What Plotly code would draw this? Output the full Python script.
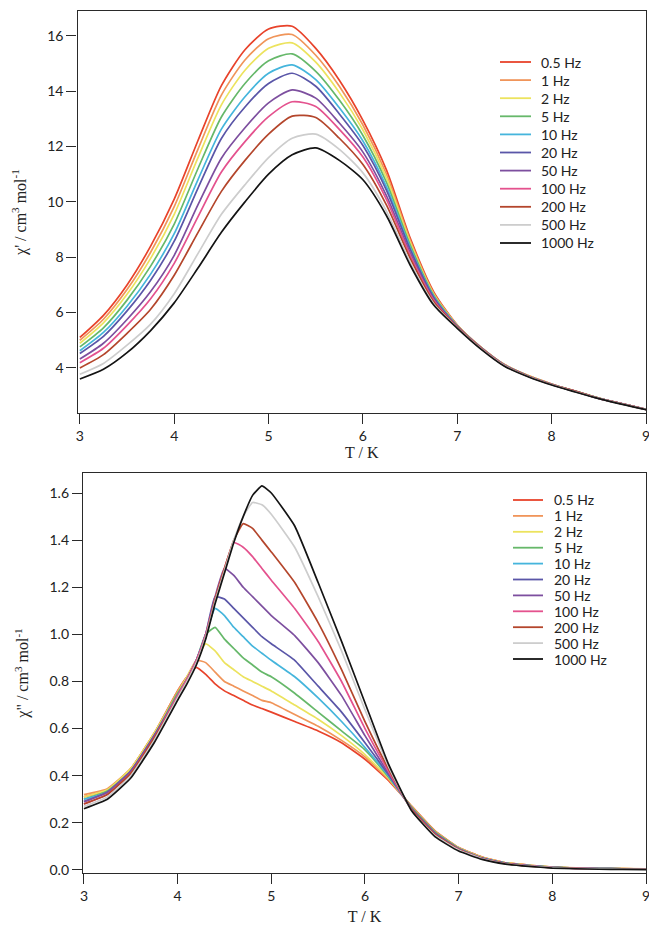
import plotly.graph_objects as go

W, H = 649, 926

# ---------------- data ----------------
freq_labels = ["0.5 Hz", "1 Hz", "2 Hz", "5 Hz", "10 Hz", "20 Hz",
               "50 Hz", "100 Hz", "200 Hz", "500 Hz", "1000 Hz"]
line_colors = ["#e8432b", "#f0955a", "#ece35e", "#66b86a", "#45b5dc", "#5a56a8",
               "#7d4f9f", "#e4528e", "#b4462c", "#cdcdcd", "#141414"]

# chi' (in-phase) panel
T_top = [3.0, 3.25, 3.5, 3.75, 4.0, 4.25, 4.5, 4.75, 5.0, 5.25, 5.5, 5.75, 6.0,
         6.25, 6.5, 6.75, 7.0, 7.25, 7.5, 7.75, 8.0, 8.25, 8.5, 8.75, 9.0]
chi1_0p5 = [5.10, 5.90, 7.00, 8.40, 10.10, 12.20, 14.20, 15.50, 16.25, 16.35, 15.55, 14.40, 12.95, 11.15, 8.70, 6.75, 5.55, 4.75, 4.12, 3.72, 3.42, 3.16, 2.91, 2.70, 2.50]
chi1_1 = [5.00, 5.76, 6.83, 8.18, 9.83, 11.89, 13.86, 15.13, 15.90, 16.05, 15.30, 14.18, 12.78, 11.00, 8.62, 6.70, 5.54, 4.75, 4.12, 3.72, 3.42, 3.16, 2.91, 2.70, 2.50]
chi1_2 = [4.89, 5.63, 6.66, 7.96, 9.55, 11.58, 13.51, 14.76, 15.55, 15.75, 15.05, 13.95, 12.60, 10.86, 8.54, 6.66, 5.53, 4.74, 4.11, 3.72, 3.41, 3.16, 2.91, 2.70, 2.50]
chi1_5 = [4.76, 5.45, 6.45, 7.68, 9.20, 11.19, 13.07, 14.28, 15.10, 15.35, 14.72, 13.68, 12.40, 10.70, 8.45, 6.62, 5.52, 4.74, 4.11, 3.71, 3.41, 3.16, 2.91, 2.70, 2.50]
chi1_10 = [4.62, 5.28, 6.23, 7.39, 8.85, 10.79, 12.63, 13.80, 14.65, 14.95, 14.42, 13.40, 12.20, 10.54, 8.36, 6.58, 5.51, 4.73, 4.10, 3.71, 3.41, 3.15, 2.90, 2.70, 2.50]
chi1_20 = [4.52, 5.14, 6.06, 7.17, 8.58, 10.48, 12.29, 13.43, 14.28, 14.65, 14.18, 13.18, 12.04, 10.42, 8.29, 6.55, 5.50, 4.73, 4.10, 3.71, 3.40, 3.15, 2.90, 2.70, 2.50]
chi1_50 = [4.32, 4.89, 5.75, 6.76, 8.07, 9.88, 11.58, 12.68, 13.58, 14.05, 13.75, 12.85, 11.80, 10.22, 8.17, 6.49, 5.49, 4.72, 4.09, 3.70, 3.40, 3.15, 2.90, 2.70, 2.50]
chi1_100 = [4.19, 4.71, 5.54, 6.50, 7.78, 9.45, 11.08, 12.18, 13.08, 13.62, 13.45, 12.62, 11.62, 10.08, 8.08, 6.45, 5.48, 4.72, 4.09, 3.70, 3.40, 3.15, 2.90, 2.70, 2.50]
chi1_200 = [4.00, 4.48, 5.25, 6.12, 7.35, 8.88, 10.38, 11.50, 12.45, 13.10, 13.05, 12.30, 11.35, 9.88, 7.97, 6.39, 5.47, 4.71, 4.08, 3.70, 3.40, 3.15, 2.90, 2.70, 2.50]
chi1_500 = [3.77, 4.16, 4.82, 5.58, 6.68, 8.12, 9.55, 10.62, 11.60, 12.30, 12.45, 11.90, 11.05, 9.66, 7.82, 6.32, 5.45, 4.70, 4.08, 3.69, 3.39, 3.14, 2.90, 2.69, 2.50]
chi1_1000 = [3.60, 3.95, 4.55, 5.35, 6.35, 7.60, 8.90, 10.00, 11.00, 11.70, 11.95, 11.50, 10.80, 9.50, 7.72, 6.27, 5.43, 4.68, 4.06, 3.68, 3.38, 3.13, 2.89, 2.68, 2.49]

# chi'' (out-of-phase) panel
T_bot = [3.0, 3.25, 3.5, 3.75, 4.0, 4.1, 4.2, 4.3, 4.4, 4.5, 4.6, 4.7, 4.8, 4.9, 5.0,
         5.25, 5.5, 5.75, 6.0, 6.25, 6.5, 6.75, 7.0, 7.25, 7.5, 7.75, 8.0, 8.25, 8.5, 8.75, 9.0]
chi2_0p5 = [0.31, 0.34, 0.43, 0.58, 0.76, 0.82, 0.86, 0.83, 0.79, 0.76, 0.74, 0.72, 0.70, 0.685, 0.67, 0.63, 0.59, 0.54, 0.47, 0.38, 0.27, 0.165, 0.095, 0.055, 0.03, 0.02, 0.012, 0.008, 0.006, 0.006, 0.004]
chi2_1 = [0.32, 0.345, 0.43, 0.58, 0.76, 0.82, 0.89, 0.88, 0.84, 0.80, 0.78, 0.76, 0.74, 0.72, 0.71, 0.66, 0.61, 0.55, 0.48, 0.385, 0.27, 0.165, 0.095, 0.055, 0.03, 0.02, 0.012, 0.009, 0.007, 0.006, 0.005]
chi2_2 = [0.31, 0.34, 0.43, 0.58, 0.75, 0.82, 0.89, 0.96, 0.93, 0.88, 0.85, 0.82, 0.80, 0.78, 0.76, 0.70, 0.64, 0.57, 0.49, 0.39, 0.265, 0.16, 0.093, 0.053, 0.03, 0.02, 0.012, 0.008, 0.007, 0.006, 0.004]
chi2_5 = [0.30, 0.335, 0.42, 0.57, 0.75, 0.81, 0.89, 1.00, 1.03, 0.98, 0.94, 0.90, 0.87, 0.84, 0.82, 0.75, 0.67, 0.59, 0.51, 0.395, 0.265, 0.16, 0.092, 0.052, 0.03, 0.018, 0.012, 0.008, 0.006, 0.005, 0.004]
chi2_10 = [0.30, 0.33, 0.42, 0.57, 0.74, 0.81, 0.89, 1.00, 1.11, 1.08, 1.03, 0.99, 0.95, 0.92, 0.89, 0.82, 0.73, 0.63, 0.52, 0.40, 0.26, 0.155, 0.09, 0.05, 0.028, 0.018, 0.011, 0.008, 0.006, 0.005, 0.004]
chi2_20 = [0.29, 0.33, 0.42, 0.57, 0.74, 0.81, 0.89, 1.00, 1.16, 1.15, 1.11, 1.07, 1.03, 0.99, 0.96, 0.89, 0.78, 0.67, 0.54, 0.405, 0.26, 0.155, 0.09, 0.05, 0.028, 0.018, 0.011, 0.007, 0.006, 0.005, 0.004]
chi2_50 = [0.29, 0.33, 0.42, 0.57, 0.74, 0.81, 0.89, 1.00, 1.16, 1.28, 1.25, 1.20, 1.16, 1.12, 1.08, 0.995, 0.88, 0.74, 0.57, 0.41, 0.26, 0.155, 0.088, 0.05, 0.028, 0.017, 0.011, 0.007, 0.006, 0.005, 0.004]
chi2_100 = [0.28, 0.32, 0.41, 0.56, 0.74, 0.81, 0.89, 1.00, 1.15, 1.28, 1.39, 1.37, 1.33, 1.28, 1.23, 1.11, 0.97, 0.80, 0.60, 0.42, 0.255, 0.15, 0.088, 0.048, 0.027, 0.017, 0.010, 0.007, 0.005, 0.004, 0.003]
chi2_200 = [0.28, 0.32, 0.41, 0.56, 0.73, 0.80, 0.88, 0.99, 1.15, 1.28, 1.40, 1.47, 1.45, 1.40, 1.35, 1.22, 1.05, 0.85, 0.63, 0.43, 0.255, 0.15, 0.087, 0.048, 0.027, 0.016, 0.010, 0.007, 0.005, 0.004, 0.003]
chi2_500 = [0.27, 0.31, 0.40, 0.55, 0.73, 0.80, 0.88, 0.99, 1.14, 1.27, 1.40, 1.50, 1.56, 1.55, 1.51, 1.37, 1.16, 0.93, 0.68, 0.44, 0.25, 0.145, 0.085, 0.047, 0.026, 0.016, 0.010, 0.006, 0.005, 0.004, 0.003]
chi2_1000 = [0.26, 0.30, 0.39, 0.54, 0.72, 0.79, 0.87, 0.98, 1.13, 1.26, 1.39, 1.50, 1.59, 1.63, 1.60, 1.46, 1.22, 0.97, 0.71, 0.45, 0.25, 0.14, 0.08, 0.045, 0.025, 0.015, 0.008, 0.005, 0.003, 0.002, 0.001]

chi1_series = [chi1_0p5, chi1_1, chi1_2, chi1_5, chi1_10, chi1_20,
               chi1_50, chi1_100, chi1_200, chi1_500, chi1_1000]
chi2_series = [chi2_0p5, chi2_1, chi2_2, chi2_5, chi2_10, chi2_20,
               chi2_50, chi2_100, chi2_200, chi2_500, chi2_1000]

x_ticks = [3, 4, 5, 6, 7, 8, 9]
y1_ticks = [4, 6, 8, 10, 12, 14, 16]
y2_ticks = [0.0, 0.2, 0.4, 0.6, 0.8, 1.0, 1.2, 1.4, 1.6]

# ---------------- figure ----------------
fig = go.Figure()
for lab, col, ys in zip(freq_labels, line_colors, chi1_series):
    fig.add_trace(go.Scatter(x=T_top, y=ys, mode="lines", name=lab,
                             line=dict(color=col, width=1.7, shape="spline", smoothing=0.7),
                             xaxis="x", yaxis="y", showlegend=False, hoverinfo="skip"))
for lab, col, ys in zip(freq_labels, line_colors, chi2_series):
    fig.add_trace(go.Scatter(x=T_bot, y=ys, mode="lines", name=lab,
                             line=dict(color=col, width=1.7, shape="spline", smoothing=0.4),
                             xaxis="x2", yaxis="y2", showlegend=False, hoverinfo="skip"))

AX = "#2a2a2a"
tick_font = dict(family="Lato", size=14, color="#222")
title_font = dict(family="Liberation Serif", size=16, color="#222")
common = dict(showline=True, linecolor=AX, linewidth=1.4, mirror=True,
              ticks="outside", ticklen=10, tickwidth=1.4, tickcolor=AX,
              showgrid=False, zeroline=False, tickfont=tick_font, automargin=False,
              ticklabeloverflow="allow")


def px(v):
    return v / W


def py(v):
    return 1 - v / H


fig.update_layout(
    width=W, height=H, margin=dict(l=0, r=0, t=0, b=0),
    paper_bgcolor="white", plot_bgcolor="white", showlegend=False,
    xaxis=dict(domain=[px(77.5), px(646)], range=[2.975, 9.0], anchor="y",
               tickvals=x_ticks, title=dict(text="T / K", font=title_font, standoff=0), **common),
    yaxis=dict(domain=[py(413), py(11)], range=[2.37, 16.9], anchor="x",
               tickvals=y1_ticks,
               title=dict(text="χ' / cm<sup>3</sup> mol<sup>-1</sup>", font=title_font, standoff=16),
               **common),
    xaxis2=dict(domain=[px(83), px(646)], range=[2.99, 9.0], anchor="y2",
                tickvals=x_ticks, title=dict(text="T / K", font=title_font, standoff=7), **common),
    yaxis2=dict(domain=[py(873), py(473)], range=[-0.013, 1.685], anchor="x2",
                tickvals=y2_ticks, tickformat=".1f",
                title=dict(text="χ\" / cm<sup>3</sup> mol<sup>-1</sup>", font=title_font, standoff=16),
                **common),
)

# hand-placed legends (compact spacing like the original)
legend_font = dict(family="Lato", size=14, color="#222")
legend_specs = [
    dict(line_x0=500, line_x1=531, text_x=539, y0=62, dy=18.1),
    dict(line_x0=513, line_x1=543, text_x=552, y0=500, dy=15.9),
]
for spec in legend_specs:
    for i, (lab, col) in enumerate(zip(freq_labels, line_colors)):
        yc = spec["y0"] + spec["dy"] * i
        fig.add_shape(type="line", xref="paper", yref="paper",
                      x0=px(spec["line_x0"]), x1=px(spec["line_x1"]),
                      y0=py(yc), y1=py(yc), line=dict(color=col, width=1.8))
        fig.add_annotation(xref="paper", yref="paper", x=px(spec["text_x"]), y=py(yc),
                           text=lab, showarrow=False, xanchor="left", yanchor="middle",
                           font=legend_font)

fig.write_html("out.html")
